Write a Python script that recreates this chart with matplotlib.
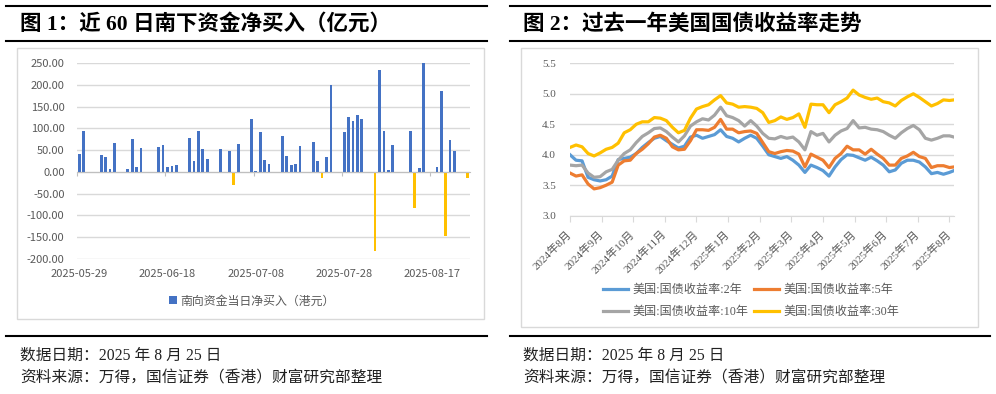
import matplotlib
matplotlib.use('Agg')
import matplotlib.pyplot as plt
import numpy as np
import pandas as pd
from matplotlib.lines import Line2D
from matplotlib.patches import Rectangle

plt.rcParams['font.family'] = ['Noto Sans CJK SC', 'DejaVu Sans']
plt.rcParams['axes.unicode_minus'] = False

# ---------------- Data: chart 1 (southbound net buying, 100m HKD) ----------------
flow_dates = ['2025-05-29', '2025-05-30', '2025-06-03', '2025-06-04', '2025-06-05', '2025-06-06',
              '2025-06-09', '2025-06-10', '2025-06-11', '2025-06-12', '2025-06-16', '2025-06-17',
              '2025-06-18', '2025-06-19', '2025-06-20', '2025-06-23', '2025-06-24', '2025-06-25',
              '2025-06-26', '2025-06-27', '2025-06-30', '2025-07-02', '2025-07-03', '2025-07-04',
              '2025-07-07', '2025-07-08', '2025-07-09', '2025-07-10', '2025-07-11', '2025-07-14',
              '2025-07-15', '2025-07-16', '2025-07-17', '2025-07-18', '2025-07-21', '2025-07-22',
              '2025-07-23', '2025-07-24', '2025-07-25', '2025-07-28', '2025-07-29', '2025-07-30',
              '2025-07-31', '2025-08-01', '2025-08-04', '2025-08-05', '2025-08-06', '2025-08-07',
              '2025-08-08', '2025-08-12', '2025-08-13', '2025-08-14', '2025-08-15', '2025-08-18',
              '2025-08-19', '2025-08-20', '2025-08-21', '2025-08-22', '2025-08-25']
flow_values = [42, 95, 38, 34, 6, 66,
               6, 75, 12, 55, 56, 62,
               11, 14, 15, 78, 25, 94,
               52, 29, 52, 48, -31, 65,
               121, 3, 91, 28, 17, 82,
               37, 15, 18, 59, 69, 26,
               -14, 35, 200, 91, 126, 116,
               130, 122, -182, 233, 93, 5,
               62, 93, -83, 8, 250, 12,
               185, -148, 73, 49, -15]
flow_label = '南向资金当日净买入（港元）'
flow_tick_dates = ['2025-05-29', '2025-06-18', '2025-07-08', '2025-07-28', '2025-08-17']
flow_axis_end = '2025-08-25'

# ---------------- Data: chart 2 (US Treasury yields, %) ----------------
yield_day = list(range(0, 253, 4)) + [255]   # trading-day index of each reading
yield_2y = [4.00, 3.91, 3.90, 3.63, 3.59, 3.57, 3.59, 3.65, 3.92, 3.94,
            3.96, 4.02, 4.12, 4.20, 4.27, 4.30, 4.23, 4.17, 4.11, 4.14,
            4.29, 4.32, 4.27, 4.30, 4.33, 4.41, 4.30, 4.27, 4.21, 4.27,
            4.32, 4.27, 4.14, 4.00, 3.97, 3.94, 3.97, 3.91, 3.83, 3.71,
            3.83, 3.79, 3.74, 3.65, 3.80, 3.92, 4.00, 3.99, 3.95, 3.91,
            3.96, 3.90, 3.83, 3.72, 3.75, 3.86, 3.91, 3.91, 3.88, 3.80,
            3.69, 3.71, 3.68, 3.71, 3.74]
yield_5y = [3.70, 3.65, 3.67, 3.52, 3.44, 3.46, 3.50, 3.55, 3.83, 3.90,
            3.91, 4.02, 4.09, 4.18, 4.29, 4.32, 4.27, 4.13, 4.08, 4.09,
            4.23, 4.41, 4.41, 4.40, 4.45, 4.58, 4.42, 4.42, 4.36, 4.38,
            4.39, 4.35, 4.20, 4.05, 4.02, 4.05, 4.07, 4.06, 4.01, 3.80,
            4.01, 3.96, 3.91, 3.79, 3.94, 4.02, 4.14, 4.08, 4.08, 4.01,
            4.09, 4.01, 3.94, 3.83, 3.83, 3.94, 3.98, 4.04, 3.97, 3.94,
            3.79, 3.82, 3.82, 3.79, 3.80]
yield_10y = [3.83, 3.82, 3.83, 3.70, 3.63, 3.64, 3.72, 3.76, 3.91, 4.02,
             4.08, 4.20, 4.30, 4.36, 4.43, 4.44, 4.38, 4.29, 4.21, 4.31,
             4.47, 4.54, 4.59, 4.57, 4.65, 4.78, 4.64, 4.61, 4.56, 4.47,
             4.56, 4.47, 4.35, 4.27, 4.26, 4.30, 4.27, 4.29, 4.21, 4.08,
             4.38, 4.32, 4.35, 4.21, 4.32, 4.39, 4.43, 4.56, 4.44, 4.45,
             4.42, 4.41, 4.38, 4.32, 4.27, 4.36, 4.43, 4.48, 4.41, 4.27,
             4.24, 4.27, 4.31, 4.31, 4.29]
yield_30y = [4.12, 4.16, 4.13, 4.02, 3.98, 4.03, 4.09, 4.12, 4.19, 4.36,
             4.41, 4.50, 4.54, 4.54, 4.61, 4.60, 4.56, 4.45, 4.36, 4.40,
             4.60, 4.75, 4.79, 4.82, 4.90, 4.97, 4.85, 4.83, 4.78, 4.79,
             4.78, 4.76, 4.69, 4.53, 4.56, 4.62, 4.58, 4.61, 4.67, 4.45,
             4.83, 4.82, 4.82, 4.69, 4.82, 4.87, 4.93, 5.06, 4.98, 4.94,
             4.91, 4.93, 4.87, 4.85, 4.80, 4.89, 4.95, 5.00, 4.94, 4.87,
             4.80, 4.84, 4.90, 4.89, 4.90]
yield_labels = ['美国:国债收益率:2年', '美国:国债收益率:5年', '美国:国债收益率:10年', '美国:国债收益率:30年']
yield_tick_day = [0, 21, 42, 63, 84, 105, 126, 147, 168, 189, 210, 231, 252]
yield_tick_labels = ['2024年8月', '2024年9月', '2024年10月', '2024年11月', '2024年12月',
                     '2025年1月', '2025年2月', '2025年3月', '2025年4月', '2025年5月',
                     '2025年6月', '2025年7月', '2025年8月']
yield_last_day = 255

# ---------------- Layout helpers ----------------
W, H = 996, 394
fig = plt.figure(figsize=(W / 100, H / 100), dpi=100)
fig.patch.set_facecolor('white')

def fx(px):
    return px / W

def fy(py):
    return 1 - py / H

def hline(x0, x1, y, lw=1.5, color='black'):
    fig.add_artist(Line2D([fx(x0), fx(x1)], [fy(y), fy(y)], transform=fig.transFigure,
                          color=color, lw=lw))

def box(x0, y0, x1, y1):
    fig.add_artist(Rectangle((fx(x0), fy(y1)), fx(x1) - fx(x0), fy(y0) - fy(y1),
                             transform=fig.transFigure, fill=False,
                             edgecolor='#D9D9D9', lw=1.0, zorder=0))

SERIF = ['Liberation Serif', 'Noto Sans CJK SC']
GREY = '#595959'
GRID = '#D9D9D9'

# Panel frames
for (xa, xb) in [(6, 487), (510, 990)]:
    hline(xa, xb, 6)
    hline(xa, xb, 41)
    hline(xa, xb, 336)
box(17, 48, 484, 319)
box(521, 48, 978, 327)

title_kw = dict(fontsize=15.5, fontweight='bold', family=SERIF, va='center', ha='left')
fig.text(fx(20), fy(24), '图 1：近 60 日南下资金净买入（亿元）', **title_kw)
fig.text(fx(523), fy(24), '图 2：过去一年美国国债收益率走势', **title_kw)
foot_kw = dict(fontsize=11.3, family=SERIF, va='center', ha='left', color='#222222')
for x0 in (20, 523):
    fig.text(fx(x0), fy(356), '数据日期：2025 年 8 月 25 日', **foot_kw)
    fig.text(fx(x0), fy(378), '资料来源：万得，国信证券（香港）财富研究部整理', **foot_kw)

# ---------------- Chart 1 ----------------
ax1 = fig.add_axes([fx(77), fy(259), fx(470) - fx(77), fy(63) - fy(259)])
d = pd.to_datetime(flow_dates)
start = d[0]
fx_days = np.array((d - start).days)
colors = ['#4472C4' if v >= 0 else '#FFC000' for v in flow_values]
bars = ax1.bar(fx_days, flow_values, width=0.62, color=colors, zorder=3)
end_day = (pd.Timestamp(flow_axis_end) - start).days
ax1.set_xlim(-0.5, end_day + 0.5)
ax1.set_ylim(-200, 250)
ax1.set_yticks(np.arange(-200, 251, 50))
ax1.set_yticklabels([f'{v:.2f}' for v in np.arange(-200, 251, 50)])
ax1.yaxis.grid(True, color=GRID, lw=1.0, zorder=0)
ax1.tick_params(axis='y', length=0, pad=9, labelsize=8, labelcolor=GREY)
for s in ['top', 'right', 'left']:
    ax1.spines[s].set_visible(False)
ax1.spines['bottom'].set_position(('data', 0))
ax1.spines['bottom'].set_color('#BFBFBF')
ax1.spines['bottom'].set_zorder(4)
tick_days = np.array((pd.to_datetime(flow_tick_dates) - start).days)
ax1.set_xticks(tick_days - 0.5)
ax1.tick_params(axis='x', length=3, direction='out', color='#BFBFBF', labelbottom=False)
sec = ax1.secondary_xaxis('bottom')
sec.set_xticks(tick_days)
sec.set_xticklabels(flow_tick_dates)
sec.tick_params(length=0, pad=7, labelsize=8, labelcolor=GREY)
sec.spines['bottom'].set_visible(False)
ax1.legend([bars], [flow_label], loc='center', bbox_to_anchor=(fx(252), fy(301)),
           bbox_transform=fig.transFigure, frameon=False, fontsize=8.6,
           handlelength=0.6, handleheight=0.6, handletextpad=0.3, labelcolor=GREY)

# ---------------- Chart 2 ----------------
ax2 = fig.add_axes([fx(570), fy(215.7), fx(954) - fx(570), fy(63.3) - fy(215.7)])
series = [yield_2y, yield_5y, yield_10y, yield_30y]
line_colors = ['#5B9BD5', '#ED7D31', '#A5A5A5', '#FFC000']
handles = []
for vals, c, lab in zip(series, line_colors, yield_labels):
    h, = ax2.plot(yield_day, vals, color=c, lw=2.3, label=lab, zorder=3)
    handles.append(h)
ax2.set_xlim(0, yield_last_day)
ax2.set_ylim(3.0, 5.5)
ax2.set_yticks(np.arange(3.0, 5.51, 0.5))
ax2.set_yticklabels([f'{v:.1f}' for v in np.arange(3.0, 5.51, 0.5)], family=SERIF)
ax2.yaxis.grid(True, color=GRID, lw=1.0, zorder=0)
ax2.tick_params(axis='y', length=0, pad=10, labelsize=8, labelcolor=GREY)
for s in ['top', 'right', 'left']:
    ax2.spines[s].set_visible(False)
ax2.spines['bottom'].set_color(GRID)
ax2.set_xticks(yield_tick_day)
ax2.set_xticklabels(yield_tick_labels, rotation=45, ha='right', va='center',
                    rotation_mode='anchor', family=SERIF)
ax2.tick_params(axis='x', length=4, direction='out', color=GRID, pad=8,
                labelsize=8, labelcolor=GREY)
order = [0, 2, 1, 3]   # row-wise reading order with two columns
ax2.legend([handles[i] for i in order], [yield_labels[i] for i in order],
           loc='center', bbox_to_anchor=(fx(751), fy(301)), bbox_transform=fig.transFigure,
           ncol=2, frameon=False, prop={'family': SERIF, 'size': 8.7},
           handlelength=2.1, handletextpad=0.3, columnspacing=0.5, labelspacing=0.8,
           labelcolor=GREY)

fig.savefig('out.png', dpi=100)
